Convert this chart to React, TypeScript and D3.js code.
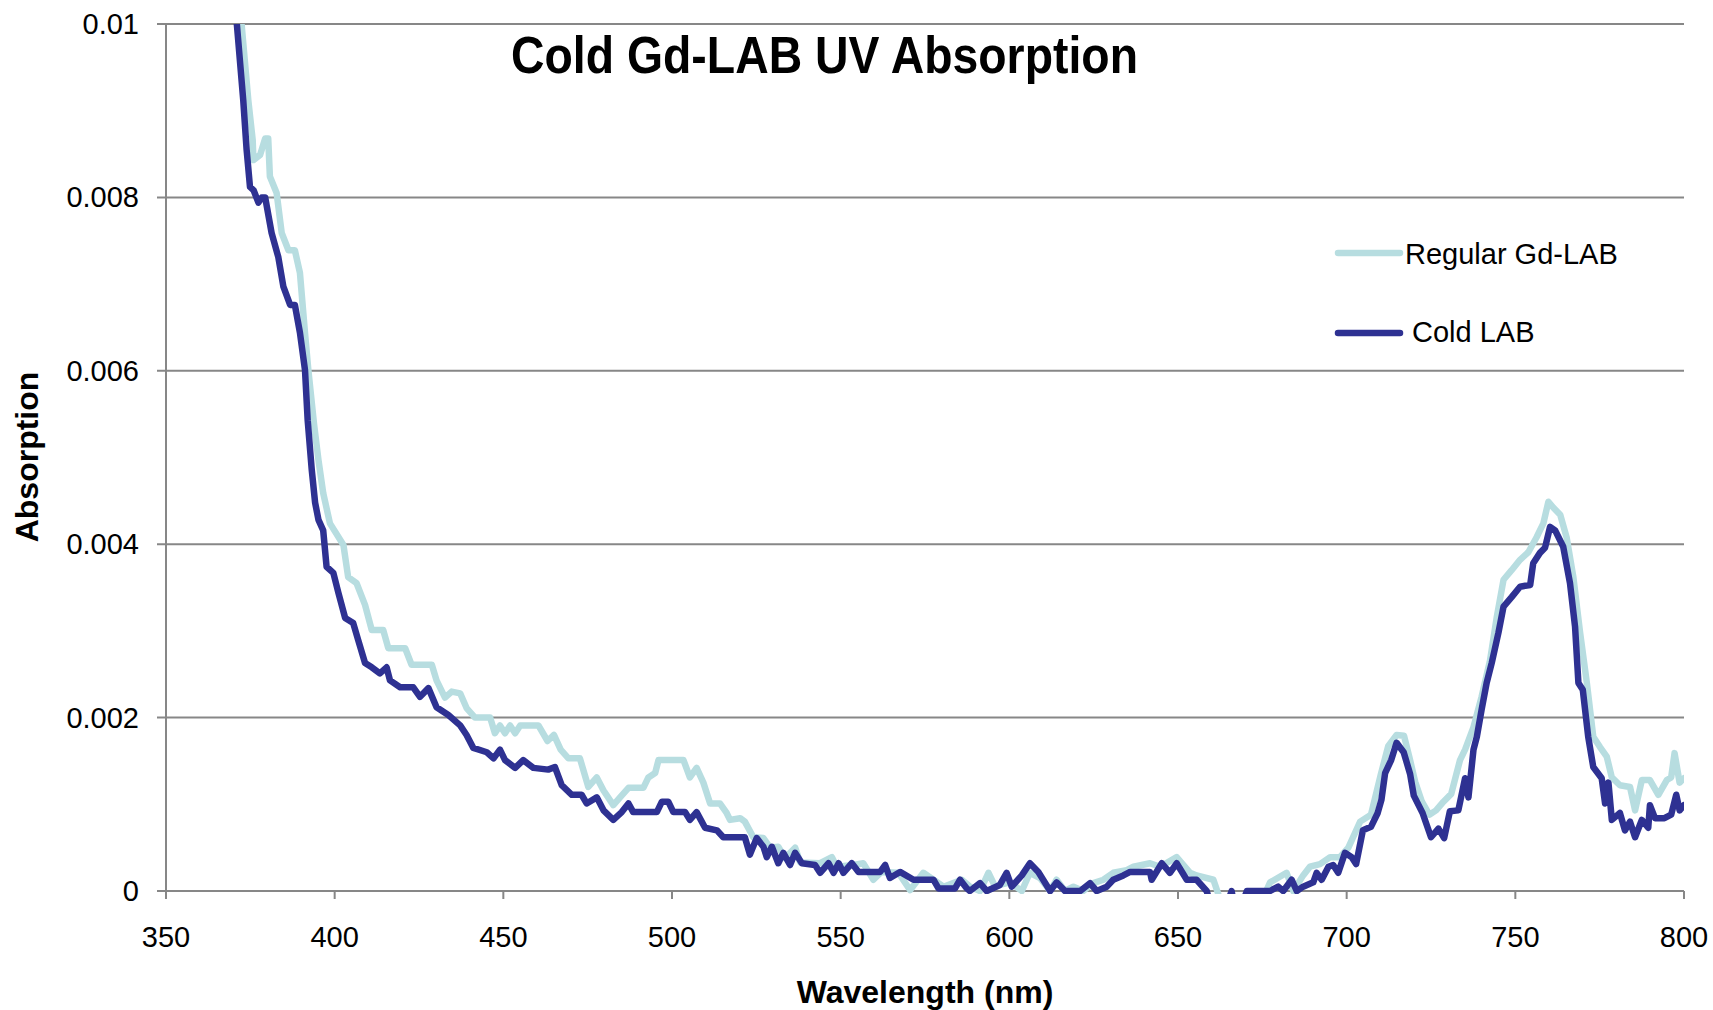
import React from "react";
import * as d3 from "d3";

const xTicks = [350, 400, 450, 500, 550, 600, 650, 700, 750, 800];
const yTicks = [0, 0.002, 0.004, 0.006, 0.008, 0.01];
const yTickLabels = ["0", "0.002", "0.004", "0.006", "0.008", "0.01"];

const regularWl = [
  371.0, 372.4, 374.4, 375.7, 375.9, 377.9, 379.4, 380.3, 380.8, 382.8, 384.3, 386.3, 388.2, 389.7, 391.2, 392.2,
  393.9, 395.2, 396.6, 398.6, 402.6, 404.0, 406.5, 409.0, 411.0, 414.4, 415.9, 420.9, 422.8, 428.8, 430.2, 432.7,
  434.7, 437.2, 439.1, 441.6, 446.1, 447.5, 449.0, 450.5, 452.0, 453.5, 455.0, 460.4, 463.1, 465.0, 467.0, 469.3,
  472.7, 475.2, 477.7, 479.7, 482.6, 484.6, 487.1, 491.5, 493.0, 495.0, 496.0, 503.4, 505.3, 507.3, 509.3, 511.3,
  514.2, 516.2, 517.2, 520.2, 521.6, 524.1, 527.1, 529.1, 531.5, 533.5, 536.5, 538.0, 543.9, 547.4, 548.8, 553.8,
  556.7, 559.7, 562.1, 567.1, 570.6, 574.5, 580.5, 585.9, 588.4, 591.3, 593.8, 595.8, 597.2, 600.2, 603.7, 606.1,
  609.1, 612.1, 614.0, 616.5, 619.0, 621.9, 624.9, 627.9, 630.8, 634.8, 636.8, 641.7, 644.7, 649.6, 653.6, 655.5,
  660.5, 662.5, 668.0, 675.0, 677.3, 682.2, 684.2, 687.1, 689.1, 692.1, 695.1, 698.0, 700.5, 704.0, 707.2, 710.1,
  712.3, 714.8, 717.0, 718.8, 720.3, 722.3, 724.5, 726.5, 728.7, 731.0, 733.6, 735.1, 737.6, 740.0, 742.5, 744.5,
  746.5, 748.9, 751.4, 753.9, 756.3, 758.3, 759.8, 761.3, 763.3, 765.2, 767.2, 769.2, 771.2, 773.1, 775.1, 777.1,
  778.6, 781.0, 784.0, 785.5, 787.5, 789.9, 792.4, 794.9, 796.2, 797.2, 798.7, 800.0,
];
const regularAbs = [
  0.0106, 0.0100, 0.00912, 0.00866, 0.00843, 0.00849, 0.00868, 0.00868, 0.00824, 0.00805, 0.00759, 0.00739, 0.00739, 0.00713, 0.00644, 0.00601,
  0.00538, 0.00497, 0.00459, 0.00424, 0.00399, 0.00362, 0.00355, 0.00330, 0.00301, 0.00301, 0.00280, 0.00280, 0.00261, 0.00261, 0.00243, 0.00223,
  0.00230, 0.00228, 0.00211, 0.00200, 0.00200, 0.00182, 0.00191, 0.00182, 0.00191, 0.00182, 0.00191, 0.00191, 0.00173, 0.00180, 0.00163, 0.00153,
  0.00153, 0.00120, 0.00131, 0.00116, 0.00099, 0.00108, 0.00119, 0.00119, 0.00131, 0.00136, 0.00151, 0.00151, 0.00131, 0.00142, 0.00125, 0.00101,
  0.00101, 0.00090, 0.00082, 0.00084, 0.00080, 0.00062, 0.00061, 0.00050, 0.00051, 0.00038, 0.00050, 0.00033, 0.00032, 0.00039, 0.00028, 0.00030,
  0.00032, 0.00013, 0.00022, 0.00021, 0.00001, 0.00021, 0.00005, 0.00013, 0.00005, 0.0, 0.00021, 0.00005, 0.00007, 0.00010, 0.0, 0.00021,
  0.00015, 0.0, 0.00013, 0.0, 0.00005, 0.0, 0.00009, 0.00013, 0.00021, 0.00024, 0.00028, 0.00032, 0.00028, 0.00039, 0.00021, 0.00018,
  0.00013, -0.0001, -0.0003, -0.0001, 0.00010, 0.00021, 0.0, 0.00018, 0.00028, 0.00031, 0.00039, 0.00039, 0.00050, 0.00080, 0.00088, 0.00134,
  0.00167, 0.00180, 0.00179, 0.00151, 0.00126, 0.00103, 0.00088, 0.00093, 0.00103, 0.00112, 0.00151, 0.00163, 0.00189, 0.00224, 0.00266, 0.00316,
  0.00359, 0.00370, 0.00382, 0.00391, 0.00408, 0.00424, 0.00449, 0.00442, 0.00434, 0.00408, 0.00362, 0.00298, 0.00240, 0.00178, 0.00166, 0.00155,
  0.00131, 0.00122, 0.00120, 0.00093, 0.00128, 0.00128, 0.00111, 0.00128, 0.00131, 0.00159, 0.00125, 0.00130,
];

const coldWl = [
  369.5, 371.0, 372.9, 373.9, 374.9, 376.0, 377.4, 378.4, 379.4, 381.3, 383.3, 384.8, 386.8, 388.2, 389.7, 391.2,
  392.0, 393.2, 394.2, 395.2, 396.6, 397.6, 399.6, 401.1, 403.1, 405.5, 407.0, 409.0, 411.0, 413.4, 415.4, 416.4,
  419.4, 423.3, 425.3, 427.8, 430.2, 433.7, 437.2, 439.1, 441.1, 445.1, 447.1, 449.0, 450.5, 453.5, 455.9, 458.9,
  463.3, 465.3, 467.3, 470.3, 473.2, 474.7, 477.7, 479.7, 482.6, 485.1, 487.1, 488.5, 495.5, 497.0, 498.9, 500.4,
  503.9, 505.3, 507.3, 509.8, 513.3, 515.2, 521.6, 523.1, 525.1, 527.1, 528.1, 529.6, 531.5, 533.0, 535.0, 536.5,
  538.5, 542.4, 543.9, 546.4, 547.9, 549.4, 550.8, 553.3, 555.3, 561.7, 563.2, 564.6, 567.6, 571.6, 577.5, 579.0,
  583.9, 585.4, 587.4, 588.3, 591.3, 593.3, 597.2, 599.2, 600.7, 603.7, 606.1, 608.6, 612.1, 614.0, 616.5, 621.0,
  623.9, 625.9, 628.9, 630.8, 633.8, 635.8, 641.7, 642.2, 645.2, 647.6, 649.6, 652.6, 655.5, 658.5, 660.0, 665.0,
  665.9, 666.8, 669.5, 670.4, 677.3, 679.7, 681.2, 683.7, 685.2, 687.1, 690.1, 691.1, 692.6, 694.6, 696.0, 697.5,
  699.5, 701.5, 702.8, 704.8, 707.2, 709.2, 710.3, 711.4, 713.2, 714.8, 716.9, 718.8, 719.9, 722.5, 725.0, 727.2,
  728.9, 730.6, 733.1, 735.1, 736.1, 737.6, 738.6, 740.0, 741.5, 743.0, 745.0, 746.5, 748.9, 751.4, 754.4, 755.3,
  757.3, 758.8, 760.3, 761.8, 764.2, 766.2, 767.7, 768.7, 770.0, 771.6, 773.1, 775.6, 776.6, 777.6, 778.6, 781.0,
  782.5, 784.0, 785.5, 787.5, 789.4, 789.9, 791.4, 794.2, 796.2, 797.7, 798.7, 800.0,
];
const coldAbs = [
  0.0107, 0.0100, 0.00912, 0.00855, 0.00812, 0.00808, 0.00794, 0.00800, 0.00800, 0.00759, 0.00731, 0.00697, 0.00676, 0.00676, 0.00644, 0.00601,
  0.00543, 0.00486, 0.00448, 0.00428, 0.00416, 0.00374, 0.00367, 0.00344, 0.00315, 0.00309, 0.00289, 0.00263, 0.00258, 0.00251, 0.00258, 0.00243,
  0.00235, 0.00235, 0.00224, 0.00234, 0.00212, 0.00203, 0.00191, 0.00180, 0.00165, 0.00160, 0.00153, 0.00163, 0.00151, 0.00142, 0.00151, 0.00142,
  0.00140, 0.00143, 0.00122, 0.00111, 0.00111, 0.00101, 0.00108, 0.00093, 0.00082, 0.00091, 0.00101, 0.00091, 0.00091, 0.00103, 0.00103, 0.00091,
  0.00091, 0.00082, 0.00091, 0.00073, 0.00070, 0.00062, 0.00062, 0.00042, 0.00061, 0.00051, 0.00039, 0.00051, 0.00032, 0.00044, 0.00030, 0.00044,
  0.00032, 0.00030, 0.00021, 0.00032, 0.00021, 0.00032, 0.00021, 0.00032, 0.00022, 0.00022, 0.00030, 0.00015, 0.00022, 0.00013, 0.00013, 0.00003,
  0.00003, 0.00013, 0.00003, 0.0, 0.00009, 0.0, 0.00007, 0.00021, 0.00005, 0.00018, 0.00032, 0.00022, 0.0, 0.00010, 0.0, 0.0,
  0.00009, 0.0, 0.00005, 0.00013, 0.00018, 0.00022, 0.00022, 0.00013, 0.00032, 0.00021, 0.00032, 0.00013, 0.00013, 0.0, -0.0002, -0.0001,
  0.0, -0.0002, -0.0001, 0.0, 0.0, 0.00005, 0.0, 0.00013, 0.0, 0.00005, 0.00010, 0.00021, 0.00013, 0.00028, 0.00030, 0.00021,
  0.00044, 0.00039, 0.00031, 0.00070, 0.00074, 0.00090, 0.00105, 0.00136, 0.00151, 0.00171, 0.00160, 0.00135, 0.00110, 0.00090, 0.00062, 0.00072,
  0.00061, 0.00092, 0.00093, 0.00130, 0.00108, 0.00163, 0.00178, 0.00209, 0.00240, 0.00263, 0.00298, 0.00328, 0.00339, 0.00351, 0.00353, 0.00378,
  0.00390, 0.00396, 0.00420, 0.00416, 0.00397, 0.00355, 0.00305, 0.00240, 0.00232, 0.00178, 0.00143, 0.00130, 0.00101, 0.00125, 0.00082, 0.00090,
  0.00070, 0.00080, 0.00062, 0.00082, 0.00073, 0.00099, 0.00084, 0.00084, 0.00088, 0.00111, 0.00093, 0.00099,
];

const series = [
  { name: "Regular Gd-LAB", wl: regularWl, abs: regularAbs, color: "#b7dde0" },
  { name: "Cold LAB", wl: coldWl, abs: coldAbs, color: "#2e3192" },
];

const W = 1713;
const H = 1010;
const left = 166;
const right = 1684;
const top = 24;
const bottom = 891;
const gridColor = "#878787";
const font = "'Liberation Sans', Arial, Helvetica, sans-serif";

export default function App() {
  const x = d3.scaleLinear().domain([350, 800]).range([left, right]);
  const y = d3.scaleLinear().domain([0, 0.01]).range([bottom, top]);
  const line = d3
    .line<[number, number]>()
    .x((d) => x(d[0]))
    .y((d) => y(d[1]));

  return (
    <svg
      width={W}
      height={H}
      style={{ position: "absolute", left: 0, top: 0, background: "#fff" }}
      fontFamily={font}
    >
      <rect x={0} y={0} width={W} height={H} fill="#fff" />
      <defs>
        <clipPath id="plotClip">
          <rect x={left} y={top} width={right - left} height={bottom - top + 3} />
        </clipPath>
      </defs>

      {yTicks.map((t) => (
        <line key={"g" + t} x1={left - 9} x2={right} y1={y(t)} y2={y(t)} stroke={gridColor} strokeWidth={2} />
      ))}
      <line x1={left} x2={left} y1={top} y2={bottom} stroke={gridColor} strokeWidth={2} />
      {xTicks.map((t) => (
        <line key={"xt" + t} x1={x(t)} x2={x(t)} y1={bottom} y2={bottom + 8} stroke={gridColor} strokeWidth={2} />
      ))}

      {yTicks.map((t, i) => (
        <text key={"yl" + t} x={139} y={y(t) + 10} textAnchor="end" fontSize={29} fill="#000">
          {yTickLabels[i]}
        </text>
      ))}
      {xTicks.map((t) => (
        <text key={"xl" + t} x={x(t)} y={947} textAnchor="middle" fontSize={29} fill="#000">
          {t}
        </text>
      ))}

      <g clipPath="url(#plotClip)">
        {series.map((s) => (
          <path
            key={s.name}
            d={line(s.wl.map((w, i) => [w, s.abs[i]] as [number, number])) || ""}
            fill="none"
            stroke={s.color}
            strokeWidth={6.5}
            strokeLinejoin="round"
            strokeLinecap="round"
          />
        ))}
      </g>

      <text
        x={824.5}
        y={73}
        textAnchor="middle"
        fontSize={52}
        fontWeight="bold"
        textLength={627}
        lengthAdjust="spacingAndGlyphs"
        fill="#000"
      >
        Cold Gd-LAB UV Absorption
      </text>

      <text x={(left + right) / 2} y={1003} textAnchor="middle" fontSize={32} fontWeight="bold" fill="#000">
        Wavelength (nm)
      </text>
      <text
        transform="translate(38,457) rotate(-90)"
        textAnchor="middle"
        fontSize={32}
        fontWeight="bold"
        fill="#000"
      >
        Absorption
      </text>

      {series.map((s, i) => (
        <g key={"lg" + s.name}>
          <line
            x1={1338}
            x2={1400}
            y1={253 + i * 80}
            y2={253 + i * 80}
            stroke={s.color}
            strokeWidth={6.5}
            strokeLinecap="round"
          />
          <text x={i === 0 ? 1405 : 1412} y={264 + i * 78} fontSize={29} fill="#000">
            {s.name}
          </text>
        </g>
      ))}
    </svg>
  );
}
